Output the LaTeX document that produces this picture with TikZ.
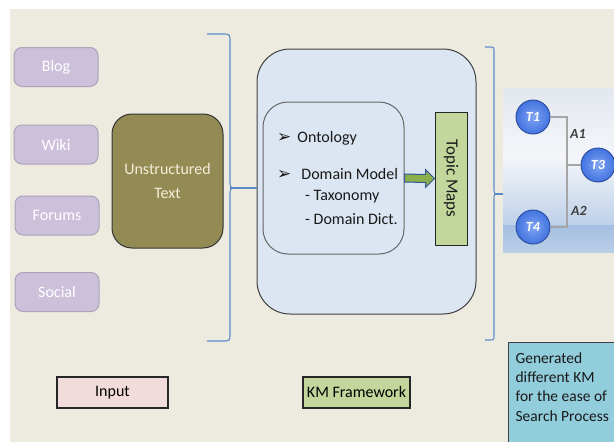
\documentclass[tikz,border=0pt]{standalone}
\usepackage{fontspec}
\setmainfont{Carlito}
\newfontfamily\symfont{DejaVu Sans}
\usetikzlibrary{calc}

\definecolor{bgbeige}{HTML}{EDEAE0}
\definecolor{srcfill}{HTML}{CCC0DA}
\definecolor{srcline}{HTML}{ABA3B8}
\definecolor{olivefill}{HTML}{948A54}
\definecolor{olivetext}{HTML}{F2EFD9}
\definecolor{kmfill}{HTML}{DCE6F2}
\definecolor{greenfill}{HTML}{C3D69B}
\definecolor{pinkfill}{HTML}{F2DCDB}
\definecolor{cyanfill}{HTML}{92CDDC}
\definecolor{bracecol}{HTML}{5B8BC6}
\definecolor{topicblue}{HTML}{4273E0}
\definecolor{topiclight}{HTML}{7FA4F2}
\definecolor{topicline}{HTML}{2A4A99}
\definecolor{arrowline}{HTML}{2F5597}
\definecolor{arrowfill}{HTML}{8BB04B}
\definecolor{pictop}{HTML}{E3E8EF}
\definecolor{picmid}{HTML}{F4F6FA}
\definecolor{picbot}{HTML}{BDD0E8}
\definecolor{bandtop}{HTML}{A4C0E2}
\definecolor{bandbot}{HTML}{B9CDE7}

\tikzset{
  srcbox/.style={draw=srcline, line width=1pt, fill=srcfill, rounded corners=8pt,
    minimum width=84pt, minimum height=39pt, text=white,
    font=\fontsize{16}{19}\selectfont},
  legend/.style={draw=black!85, line width=1.2pt, minimum height=31pt,
    font=\fontsize{16}{19}\selectfont},
  item/.style={anchor=west, inner sep=0pt, text=black!90,
    font=\fontsize{16}{19}\selectfont},
  curly/.style={draw=bracecol, line width=1.1pt},
  topic/.style={circle, draw=topicline, line width=0.9pt, minimum size=34pt,
    inner sep=0pt, inner color=topiclight, outer color=topicblue, text=white,
    font=\fontsize{14}{16}\selectfont\bfseries\itshape},
  rel/.style={text=black!75, font=\fontsize{14}{16}\selectfont\bfseries\itshape},
  tmline/.style={draw=gray!70, line width=1.2pt}
}

\begin{document}
\begin{tikzpicture}[x=1pt,y=-1pt]
    \useasboundingbox (0,0) rectangle (614,442);
    \clip (0,0) rectangle (614,442);
    \fill[bgbeige] (10,9) rectangle (614,442);

    % input sources
    \node[srcbox] (blog) at (56,67) {Blog};
    \node[srcbox] (wiki) at (56,144.5) {Wiki};
    \node[srcbox] (forums) at (57,215.5) {Forums};
    \node[srcbox] (social) at (57,292) {Social};
    \node[draw=black!80, line width=1pt, fill=olivefill, rounded corners=20pt,
      minimum width=111pt, minimum height=134pt, align=center, text=olivetext,
      font=\fontsize{16}{24}\selectfont] (unstr) at (167.5,181) {Unstructured\\Text};

    % KM framework
    \node[draw=black!75, line width=1pt, fill=kmfill, rounded corners=33pt,
      minimum width=219pt, minimum height=265pt] (km) at (366.5,181.5) {};
    \node[draw=gray!80!black, line width=1pt, fill=kmfill, rounded corners=25pt,
      minimum width=141pt, minimum height=152pt] (dom) at (333.5,178) {};
    \node[draw=black!85, line width=1pt, fill=greenfill, minimum width=32pt,
      minimum height=133pt] (tm) at (451,178.5) {};
    \node[rotate=-90, text=black!90, font=\fontsize{17}{19}\selectfont] (tmtext)
      at (tm.center) {Topic Maps};

    \node[item] (onto) at (277,138) {{\symfont\fontsize{17}{19}\selectfont ➢}\hspace{6pt}Ontology};
    \node[item] (dmodel) at (277,174) {{\symfont\fontsize{17}{19}\selectfont ➢}\hspace{10pt}Domain Model};
    \node[item] (taxo) at (305,197) {- Taxonomy};
    \node[item] (dict) at (305,219) {- Domain Dict.};

    % block arrow to topic maps
    \draw[draw=arrowline, line width=1pt, fill=arrowfill, line join=miter]
      ($(dom.east)+(0,-4)$) -- ($(tm.west)+(-9,-4)$) -- ($(tm.west)+(-9,-9)$)
      -- (tm.west) -- ($(tm.west)+(-9,9)$) -- ($(tm.west)+(-9,4)$)
      -- ($(dom.east)+(0,4)$) -- cycle;

    % braces
    \coordinate (tip1) at (230,188);
    \draw[curly] (207,34) -- (222,34) .. controls (230,34) .. (230,42) -- (230,180)
      .. controls (230,188) .. (238,188);
    \draw[curly] (207,341) -- (222,341) .. controls (230,341) .. (230,333) -- (230,196)
      .. controls (230,188) .. (238,188);
    \draw[curly] (tip1) -- (tip1 -| km.west);

    \coordinate (tip2) at (494,194);
    \draw[curly] (485,47) -- (489,47) .. controls (494,47) .. (494,52) -- (494,188)
      .. controls (494,194) .. (499,194);
    \draw[curly] (485,340) -- (489,340) .. controls (494,340) .. (494,335) -- (494,200)
      .. controls (494,194) .. (499,194);

    % generated topic map
    \node[anchor=north west, minimum width=120pt, minimum height=137pt, inner sep=0pt,
      top color=pictop, bottom color=picbot, middle color=picmid] (tmpic) at (503,88) {};
    \fill[top color=bandtop, bottom color=bandbot] (503,225) rectangle (623,252);
    \draw[curly] (tip2) -- (tip2 -| tmpic.west);

    \node[topic] (t1) at (533,117) {T1};
    \node[topic] (t3) at (598,165) {T3};
    \node[topic] (t4) at (533,227) {T4};
    \coordinate (jn) at (567,165);
    \draw[tmline] (t1.east) -| (jn) -- (t3.west);
    \draw[tmline] (t4.east) -| (jn);
    \node[rel] (a1) at (578,134) {A1};
    \node[rel] (a2) at (579,211) {A2};

    \node[draw=black!75, line width=1.2pt, fill=cyanfill, anchor=north west,
      inner xsep=7pt, inner ysep=10pt, text=black!90,
      font=\fontsize{15.5}{19.3}\selectfont] (gen) at (508,342)
      {\parbox[c][96pt][t]{108pt}{\raggedright Generated\\different KM\\for the ease of\\Search Process}};

    % legend
    \node[legend, fill=pinkfill, minimum width=111pt] (input) at (112.5,392.5) {Input};
    \node[legend, fill=greenfill, minimum width=107pt] (kmf) at (356.5,392.5) {KM Framework};
\end{tikzpicture}
\end{document}
